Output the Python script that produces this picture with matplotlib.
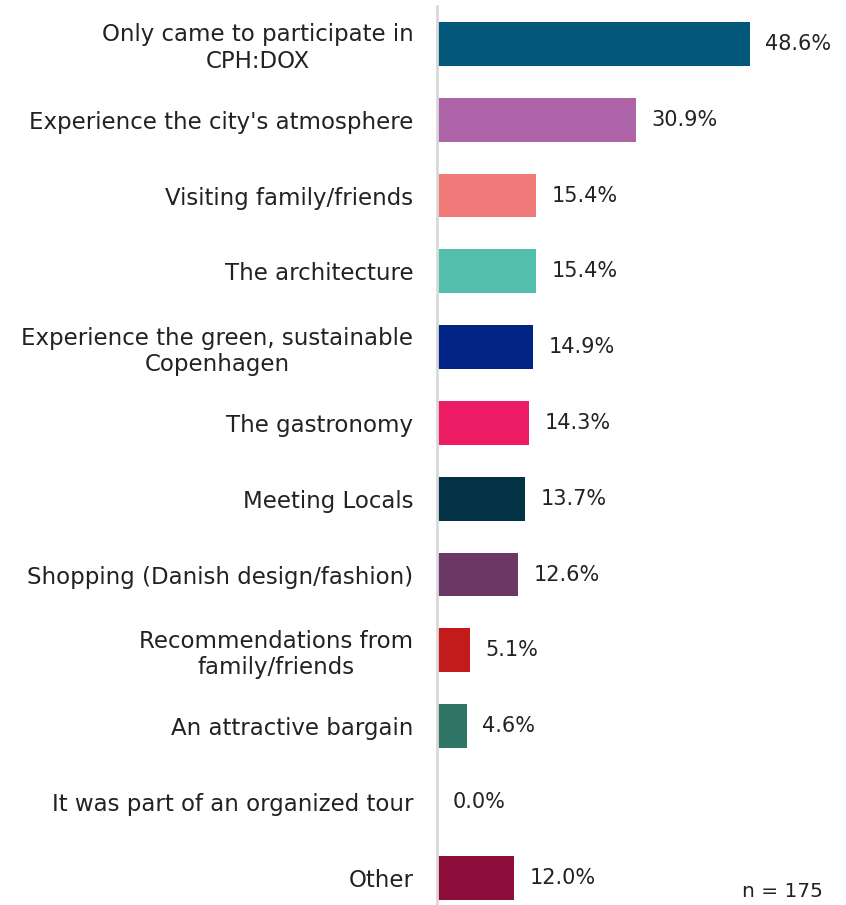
import matplotlib.pyplot as plt

categories = [
    "Only came to participate in\nCPH:DOX",
    "Experience the city's atmosphere",
    "Visiting family/friends",
    "The architecture",
    "Experience the green, sustainable\nCopenhagen",
    "The gastronomy",
    "Meeting Locals",
    "Shopping (Danish design/fashion)",
    "Recommendations from\nfamily/friends",
    "An attractive bargain",
    "It was part of an organized tour",
    "Other",
]
shares = [48.6, 30.9, 15.4, 15.4, 14.9, 14.3, 13.7, 12.6, 5.1, 4.6, 0.0, 12.0]
colors = ["#03577a", "#ae64a8", "#f07a7a", "#52c0ad", "#022585", "#ec1c64",
          "#033146", "#6b3865", "#c31b1b", "#2e7566", "#888888", "#8d0e3a"]
n_resp = 175

plt.rcParams['font.family'] = ['DejaVu Sans']
txt = "#222222"

fig = plt.figure(figsize=(8.46, 9.05), dpi=100)
ax = fig.add_axes([437 / 846, 0.0, 406 / 846, 899 / 905])

ypos = list(range(len(categories)))
ax.barh(ypos, shares, height=0.58, color=colors, left=0)

for y, v in zip(ypos, shares):
    ax.text(v + 2.4, y, f"{v:.1f}%", va="center", ha="left",
            fontsize=15, color=txt)

ax.set_xlim(0, 406 / 6.44)
ax.set_ylim(11.36, -0.5)
ax.set_yticks(ypos)
ax.set_yticklabels(categories, fontsize=16.5, color=txt, multialignment="center",
                   linespacing=1.2)
ax.tick_params(axis="y", length=0, pad=17)
ax.set_xticks([])

for side in ["top", "right", "bottom"]:
    ax.spines[side].set_visible(False)
ax.spines["left"].set_color("#d9d9d9")
ax.spines["left"].set_linewidth(2)

fig.text(782 / 846, 1 - 891 / 905, f"n = {n_resp}", ha="center", va="center",
         fontsize=14.5, color=txt)

fig.savefig("out.png", dpi=100)
